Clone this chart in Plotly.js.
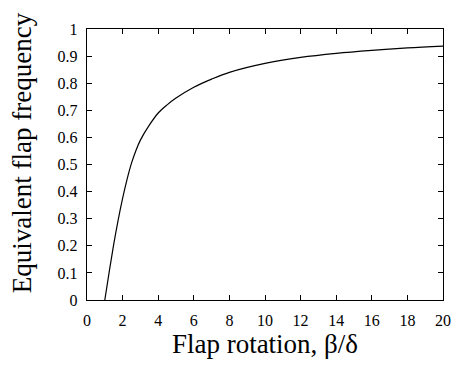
<!DOCTYPE html>
<html>
<head>
<meta charset="utf-8">
<script src="https://cdn.plot.ly/plotly-3.0.1.min.js"></script>
<style>
  html, body { margin: 0; padding: 0; background: #fff; }
  #chart { width: 451px; height: 366px; }
</style>
</head>
<body>
<div id="chart"></div>
<script>
// Flap rotation ratio beta/delta
const rotation = [1.0, 1.25, 1.5, 1.75, 2.0, 2.25, 2.5, 2.75, 3.0, 3.5, 4.0, 4.5, 5, 6, 7, 8, 10, 12, 14, 16, 18, 20];
// Equivalent flap frequency at each rotation ratio
const frequency = [0, 0.105, 0.205, 0.295, 0.375, 0.445, 0.505, 0.552, 0.59, 0.645, 0.69, 0.72, 0.745, 0.785, 0.815, 0.84, 0.873, 0.895, 0.91, 0.921, 0.93, 0.937];

const xTicks = [0, 2, 4, 6, 8, 10, 12, 14, 16, 18, 20];
const yTicks = [0, 0.1, 0.2, 0.3, 0.4, 0.5, 0.6, 0.7, 0.8, 0.9, 1];
const yTickText = ["0", "0.1", "0.2", "0.3", "0.4", "0.5", "0.6", "0.7", "0.8", "0.9", "1"];

const serif = "Liberation Serif, Times New Roman, serif";

const trace = {
  x: rotation,
  y: frequency,
  type: "scatter",
  mode: "lines",
  line: { color: "#000", width: 1.2, shape: "spline", smoothing: 1 },
  hoverinfo: "skip"
};

const axisCommon = {
  showgrid: false,
  zeroline: false,
  showline: true,
  linecolor: "#000",
  linewidth: 1.2,
  mirror: "ticks",
  ticks: "inside",
  ticklen: 5,
  tickwidth: 1,
  tickcolor: "#000",
  tickfont: { family: serif, size: 16, color: "#000" }
};

const layout = {
  width: 451,
  height: 366,
  margin: { l: 87, r: 8, t: 29, b: 66 },
  paper_bgcolor: "#fff",
  plot_bgcolor: "#fff",
  showlegend: false,
  xaxis: Object.assign({}, axisCommon, {
    range: [0, 20],
    tickmode: "array",
    tickvals: xTicks,
    ticktext: xTicks.map(String),
    ticklabelstandoff: 6,
    title: { text: "Flap rotation, β/δ", font: { family: serif, size: 27, color: "#000" }, standoff: 4 }
  }),
  yaxis: Object.assign({}, axisCommon, {
    range: [0, 1],
    tickmode: "array",
    tickvals: yTicks,
    ticktext: yTickText,
    ticklabelstandoff: 5
  }),
  // vertical axis title placed by hand so it sits a little above the plot centre
  annotations: [{
    text: "Equivalent flap frequency",
    textangle: -90,
    xref: "paper", yref: "paper",
    x: -0.183, y: 0.545,
    xanchor: "center", yanchor: "middle",
    showarrow: false,
    font: { family: serif, size: 27, color: "#000" }
  }]
};

Plotly.newPlot("chart", [trace], layout, { staticPlot: true, displayModeBar: false });
</script>
</body>
</html>
